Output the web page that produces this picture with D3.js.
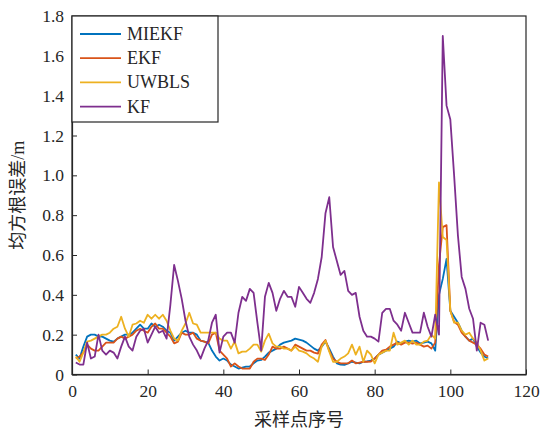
<!DOCTYPE html>
<html><head><meta charset="utf-8">
<script src="https://cdn.jsdelivr.net/npm/d3@7"></script>
<style>body{margin:0;background:#fff}svg{display:block}</style>
</head><body>
<svg id="c" width="541" height="429"></svg>
<script>
const seriesNames = ["MIEKF","EKF","UWBLS","KF"];
const seriesColors = ["#0072BD","#D95319","#EDB120","#7E2F8E"];
const xTicks = [0,20,40,60,80,100,120];
const yTicks = [0,0.2,0.4,0.6,0.8,1.0,1.2,1.4,1.6,1.8];
const xLabel = "采样点序号";
const yLabel = "均方根误差/m";

const MIEKF = [0.10,0.08,0.14,0.19,0.20,0.20,0.19,0.19,0.18,0.17,
0.165,0.18,0.19,0.20,0.20,0.21,0.23,0.25,0.23,0.23,
0.256,0.24,0.25,0.24,0.22,0.21,0.17,0.19,0.21,0.22,
0.21,0.21,0.20,0.17,0.165,0.16,0.12,0.09,0.07,0.08,
0.07,0.05,0.04,0.03,0.035,0.04,0.04,0.056,0.07,0.073,
0.09,0.11,0.12,0.13,0.15,0.16,0.165,0.17,0.18,0.175,
0.17,0.16,0.145,0.13,0.12,0.14,0.165,0.13,0.09,0.056,
0.05,0.048,0.056,0.064,0.06,0.056,0.064,0.066,0.07,0.08,
0.10,0.11,0.12,0.13,0.14,0.165,0.156,0.165,0.17,0.165,
0.17,0.156,0.16,0.165,0.156,0.12,0.40,0.48,0.58,0.32,
0.29,0.26,0.22,0.19,0.17,0.18,0.14,0.11,0.09,0.08];

const EKF = [0.08,0.09,0.11,0.15,0.13,0.12,0.12,0.14,0.16,0.16,
0.16,0.18,0.19,0.18,0.19,0.20,0.22,0.23,0.22,0.21,
0.24,0.256,0.23,0.23,0.21,0.19,0.156,0.165,0.21,0.20,
0.20,0.21,0.18,0.17,0.165,0.156,0.20,0.21,0.12,0.10,
0.08,0.04,0.056,0.04,0.03,0.03,0.03,0.064,0.08,0.08,
0.073,0.10,0.14,0.13,0.13,0.14,0.13,0.12,0.15,0.14,
0.13,0.12,0.12,0.11,0.105,0.15,0.173,0.12,0.08,0.064,
0.056,0.056,0.056,0.07,0.056,0.06,0.064,0.064,0.065,0.08,
0.10,0.12,0.125,0.14,0.15,0.16,0.15,0.16,0.16,0.155,
0.16,0.15,0.14,0.145,0.13,0.16,0.55,0.74,0.75,0.32,
0.265,0.25,0.21,0.19,0.17,0.16,0.15,0.13,0.10,0.09];

const UWBLS = [0.09,0.064,0.11,0.165,0.17,0.18,0.19,0.20,0.20,0.21,
0.23,0.24,0.29,0.23,0.19,0.25,0.256,0.27,0.26,0.30,
0.28,0.30,0.28,0.30,0.27,0.22,0.18,0.17,0.22,0.256,
0.31,0.256,0.25,0.21,0.21,0.21,0.21,0.21,0.18,0.17,
0.17,0.13,0.165,0.106,0.115,0.115,0.13,0.15,0.15,0.115,
0.17,0.205,0.156,0.14,0.14,0.13,0.13,0.12,0.14,0.12,
0.115,0.106,0.09,0.08,0.064,0.14,0.17,0.115,0.064,0.064,
0.08,0.09,0.106,0.15,0.10,0.14,0.064,0.12,0.10,0.056,
0.10,0.11,0.12,0.12,0.21,0.15,0.16,0.17,0.15,0.17,
0.15,0.15,0.165,0.17,0.20,0.18,0.965,0.69,0.675,0.32,
0.26,0.26,0.22,0.20,0.21,0.18,0.16,0.12,0.07,0.08];

const KF = [0.06,0.05,0.05,0.16,0.08,0.09,0.20,0.12,0.10,0.12,
0.11,0.08,0.14,0.19,0.14,0.12,0.19,0.22,0.23,0.16,
0.20,0.24,0.21,0.22,0.18,0.35,0.55,0.47,0.38,0.27,
0.19,0.15,0.12,0.08,0.13,0.17,0.26,0.30,0.11,0.19,
0.21,0.21,0.16,0.31,0.39,0.37,0.43,0.41,0.26,0.12,
0.39,0.46,0.41,0.32,0.38,0.42,0.39,0.39,0.34,0.44,
0.41,0.38,0.36,0.41,0.48,0.59,0.81,0.89,0.64,0.57,
0.50,0.52,0.42,0.40,0.41,0.29,0.22,0.19,0.19,0.18,
0.165,0.31,0.33,0.33,0.27,0.25,0.22,0.31,0.26,0.21,
0.21,0.21,0.31,0.24,0.19,0.30,0.20,1.70,1.35,1.28,
1.00,0.70,0.49,0.43,0.33,0.28,0.12,0.26,0.25,0.17];

const allSeries = [MIEKF, EKF, UWBLS, KF];

const svg = d3.select("#c");
const L = 72, R = 526, T = 16, B = 374.5;
const x = d3.scaleLinear().domain([0,120]).range([L,R]);
const y = d3.scaleLinear().domain([0,1.8]).range([B,T]);
const font = "'Liberation Serif','Times New Roman',serif";
const cjk = "'Liberation Serif','Noto Sans CJK SC',serif";

const line = d3.line().x((d,i)=>x(i+1)).y(d=>y(d));
const g = svg.append("g");
allSeries.forEach((s,k)=>{
  g.append("path").datum(s).attr("d",line).attr("fill","none")
   .attr("stroke",seriesColors[k]).attr("stroke-width",1.8)
   .attr("stroke-linejoin","round");
});

// box
svg.append("rect").attr("x",L).attr("y",T).attr("width",R-L).attr("height",B-T)
  .attr("fill","none").attr("stroke","#262626").attr("stroke-width",1.2);

const xAxis = svg.append("g").attr("transform",`translate(0,${B})`)
  .call(d3.axisBottom(x).tickValues(xTicks).tickSizeInner(-5).tickSizeOuter(0).tickPadding(10));
const yAxis = svg.append("g").attr("transform",`translate(${L},0)`)
  .call(d3.axisLeft(y).tickValues(yTicks).tickSizeInner(-5).tickSizeOuter(0).tickPadding(8)
  .tickFormat(d=>d===0?"0":d3.format(".1f")(d)));
[xAxis,yAxis].forEach(a=>{
  a.select(".domain").attr("stroke","#262626").attr("stroke-width",1.2);
  a.selectAll(".tick line").attr("stroke","#262626");
  a.selectAll("text").attr("font-family",font).attr("font-size",17.5).attr("fill","#262626");
});

svg.append("text").attr("x",(L+R)/2).attr("y",426).attr("text-anchor","middle")
  .attr("font-family",cjk).attr("font-size",18).attr("fill","#262626").text(xLabel);
svg.append("text").attr("transform",`translate(24,${(T+B)/2}) rotate(-90)`)
  .attr("text-anchor","middle").attr("font-family",cjk).attr("font-size",18)
  .attr("fill","#262626").text(yLabel);

// legend
const lg = svg.append("g");
lg.append("rect").attr("x",L).attr("y",T).attr("width",146).attr("height",106)
  .attr("fill","#fff").attr("stroke","#262626").attr("stroke-width",1.2);
seriesNames.forEach((n,k)=>{
  const yy = 34 + k*24.2;
  lg.append("line").attr("x1",80).attr("x2",121).attr("y1",yy).attr("y2",yy)
    .attr("stroke",seriesColors[k]).attr("stroke-width",1.8);
  lg.append("text").attr("x",127).attr("y",yy+6).attr("font-family",font)
    .attr("font-size",18).attr("fill","#262626").text(n);
});
</script>
</body></html>
